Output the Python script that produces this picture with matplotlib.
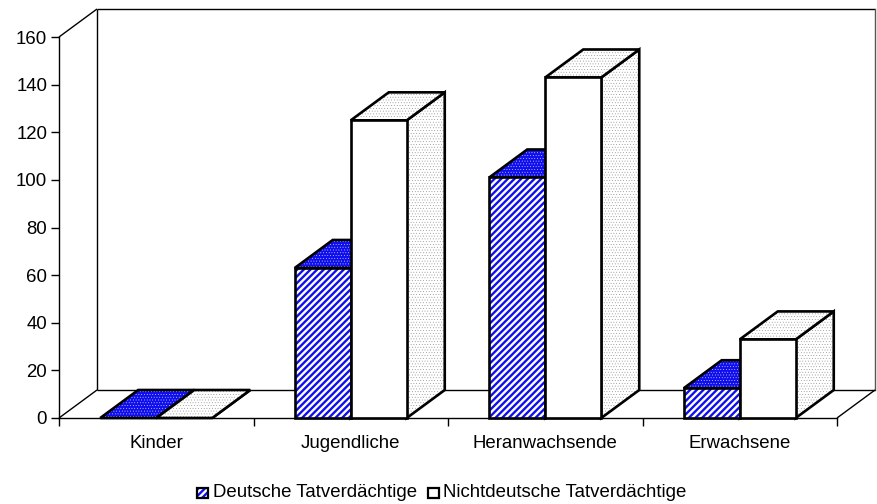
import numpy as np
import matplotlib
matplotlib.use('Agg')
import matplotlib.pyplot as plt
from matplotlib.patches import Polygon, Rectangle

plt.rcParams['font.family'] = ['Liberation Sans', 'DejaVu Sans']

categories = ['Kinder', 'Jugendliche', 'Heranwachsende', 'Erwachsene']
deutsche = [0, 63, 101, 12.5]
nichtdeutsche = [0, 125, 143, 33]
yticks = [0, 20, 40, 60, 80, 100, 120, 140, 160]

W, H = 877, 504
BLUE = '#0f0fee'
FS = 13.4

fig = plt.figure(figsize=(W / 100, H / 100), dpi=100)
ax = fig.add_axes([59 / W, 1 - 418 / H, (837 - 59) / W, (418 - 37) / H])
ax.set_xlim(0, 4)
ax.set_ylim(0, 160)
ax.patch.set_visible(False)

# 3d depth, in data units
dx = 38 / 194.5
dy = 28 / 2.381
bar_w = 56 / 194.5


def face(pts, fc, hatch=None, hc=None, hlw=1.0, outline=True, z=3):
    if hatch:
        p = Polygon(pts, closed=True, facecolor=fc, edgecolor=hc, hatch=hatch, lw=0, zorder=z, clip_on=False)
        p.set_hatch_linewidth(hlw)
    else:
        p = Polygon(pts, closed=True, facecolor=fc, edgecolor='none', zorder=z, clip_on=False)
    ax.add_patch(p)
    if outline:
        ax.add_patch(Polygon(pts, closed=True, fill=False, edgecolor='black', lw=1.9,
                             joinstyle='miter', zorder=z, clip_on=False))


def bar3d(x0, val, kind, z):
    x1 = x0 + bar_w
    top = [(x0, val), (x1, val), (x1 + dx, val + dy), (x0 + dx, val + dy)]
    side = [(x1, 0), (x1 + dx, dy), (x1 + dx, val + dy), (x1, val)]
    front = [(x0, 0), (x1, 0), (x1, val), (x0, val)]
    if kind == 'blue':
        face(side, BLUE, '......', 'white', 0.2, z=z)
        face(top, BLUE, '......', 'white', 0.2, z=z)
        if val > 0:
            face(front, 'white', '/' * 5, BLUE, 1.7, z=z)
    else:
        face(side, 'white', '......', '#777777', 0.2, z=z)
        face(top, 'white', '......', '#777777', 0.2, z=z)
        if val > 0:
            face(front, 'white', z=z)


# back wall and floor
line = dict(color='black', lw=1.0, clip_on=False, zorder=1, solid_capstyle='butt')
ax.plot([0, dx], [160, 160 + dy], **line)
ax.plot([dx, dx], [dy, 160 + dy], **line)
ax.plot([dx, 4 + dx], [160 + dy, 160 + dy], **line)
ax.plot([4 + dx, 4 + dx], [dy, 160 + dy], color='#555555', lw=1.0, clip_on=False, zorder=1)
ax.plot([dx, 4 + dx], [dy, dy], **line)
ax.plot([0, dx], [0, dy], **line)
ax.plot([4, 4 + dx], [0, dy], **line)

for i in range(len(categories)):
    left = i + (1 - 2 * bar_w) / 2
    bar3d(left, deutsche[i], 'blue', 3 + i * 2)
    bar3d(left + bar_w, nichtdeutsche[i], 'white', 4 + i * 2)

ax.spines['top'].set_visible(False)
ax.spines['right'].set_visible(False)
ax.spines['left'].set_linewidth(1.0)
ax.spines['bottom'].set_linewidth(1.0)
ax.set_xticks(range(5))
ax.set_xticklabels([])
ax.set_xticks(np.arange(len(categories)) + 0.5, categories, minor=True)
ax.tick_params(axis='x', which='minor', length=0, pad=12, labelsize=FS)
ax.tick_params(axis='x', which='major', length=6, width=1)
ax.set_yticks(yticks)
ax.tick_params(axis='y', length=6, width=1, labelsize=FS, pad=2.5)

# legend
lax = fig.add_axes([0, 0, 1, 1], zorder=-1)
lax.set_xlim(0, W)
lax.set_ylim(H, 0)
lax.axis('off')
sw = Rectangle((197, 488), 11, 10, facecolor='white', edgecolor=BLUE, hatch='/' * 5, lw=0)
sw.set_hatch_linewidth(1.7)
lax.add_patch(sw)
lax.add_patch(Rectangle((197, 488), 11, 10, fill=False, edgecolor='black', lw=1.6))
lax.text(213, 492.5, 'Deutsche Tatverdächtige', fontsize=FS, va='center', ha='left')
lax.add_patch(Rectangle((428, 488), 11, 10, facecolor='white', edgecolor='black', lw=1.6))
lax.text(443, 492.5, 'Nichtdeutsche Tatverdächtige', fontsize=FS, va='center', ha='left')

fig.savefig('out.png', dpi=100)
